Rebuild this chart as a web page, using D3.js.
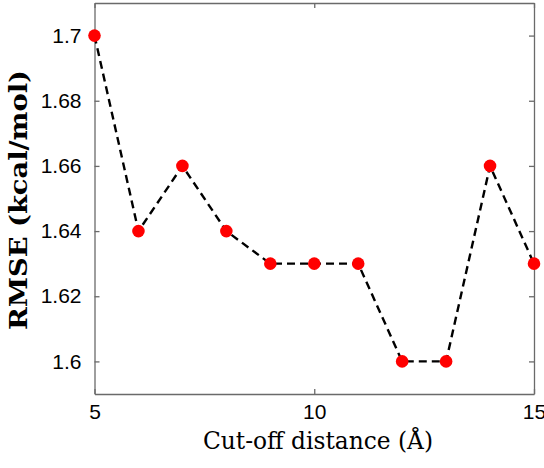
<!DOCTYPE html>
<html>
<head>
<meta charset="utf-8">
<script src="https://cdn.jsdelivr.net/npm/d3@7"></script>
<style>
  html, body { margin: 0; padding: 0; background: #fff; }
  svg { display: block; }
</style>
</head>
<body>
<div id="chart"></div>
<script>
const cutoffs = [5, 6, 7, 8, 9, 10, 11, 12, 13, 14, 15];
const rmse = [1.70, 1.64, 1.66, 1.64, 1.63, 1.63, 1.63, 1.60, 1.60, 1.66, 1.63];
const xTicks = [5, 10, 15];
const yTicks = [1.6, 1.62, 1.64, 1.66, 1.68, 1.7];
const xTitle = "Cut-off distance (Å)";
const yTitle = "RMSE (kcal/mol)";

const W = 544, H = 468;
const m = { left: 94.5, right: 10, top: 3, bottom: 74 };
const svg = d3.select("#chart").append("svg").attr("width", W).attr("height", H);

const x = d3.scaleLinear().domain([5, 15]).range([m.left, W - m.right]);
const y = d3.scaleLinear().domain([1.59, 1.71]).range([H - m.bottom, m.top]);

const axisColor = "#6a6a6a";
const tickFont = "'Liberation Sans', Arial, sans-serif";

// Axes (inward ticks), mirrored
const gL = svg.append("g").attr("transform", `translate(${x.range()[0]},0)`)
  .call(d3.axisLeft(y).tickValues(yTicks).tickSizeInner(-5).tickSizeOuter(0).tickPadding(13)
    .tickFormat(d => d3.format("")(+d.toFixed(2))));
const gR = svg.append("g").attr("transform", `translate(${x.range()[1]},0)`)
  .call(d3.axisRight(y).tickValues(yTicks).tickSizeInner(-5).tickSizeOuter(0).tickFormat(""));
const gB = svg.append("g").attr("transform", `translate(0,${y.range()[0]})`)
  .call(d3.axisBottom(x).tickValues(xTicks).tickSizeInner(-5).tickSizeOuter(0).tickPadding(14));
const gT = svg.append("g").attr("transform", `translate(0,${y.range()[1]})`)
  .call(d3.axisTop(x).tickValues(xTicks).tickSizeInner(-5).tickSizeOuter(0).tickFormat(""));

[gL, gR, gB, gT].forEach(g => {
  g.selectAll("path.domain").attr("stroke", axisColor).attr("stroke-width", 1.3);
  g.selectAll(".tick line").attr("stroke", axisColor).attr("stroke-width", 1.3);
  g.selectAll(".tick text").attr("fill", "#000").style("font-family", tickFont).style("font-size", "21px");
});
gB.selectAll(".tick text").attr("dy", "0.5em");

// Data line
const line = d3.line().x((d, i) => x(cutoffs[i])).y(d => y(d));
svg.append("path")
  .datum(rmse)
  .attr("d", line)
  .attr("fill", "none")
  .attr("stroke", "#000")
  .attr("stroke-width", 2.4)
  .attr("stroke-dasharray", "8,5");

svg.append("g").selectAll("circle")
  .data(rmse)
  .join("circle")
  .attr("cx", (d, i) => x(cutoffs[i]))
  .attr("cy", d => y(d))
  .attr("r", 6.3)
  .attr("fill", "#ff0000");

// Titles
svg.append("text")
  .attr("x", 318).attr("y", 449)
  .attr("text-anchor", "middle")
  .attr("textLength", 230).attr("lengthAdjust", "spacingAndGlyphs")
  .style("font-family", "'DejaVu Serif', 'Liberation Serif', serif")
  .style("font-size", "24px")
  .text(xTitle);

svg.append("text")
  .attr("transform", "translate(27,200) rotate(-90)")
  .attr("text-anchor", "middle")
  .attr("textLength", 260).attr("lengthAdjust", "spacingAndGlyphs")
  .style("font-family", "'DejaVu Serif', 'Liberation Serif', serif")
  .style("font-weight", "bold")
  .style("font-size", "24px")
  .text(yTitle);
</script>
</body>
</html>
